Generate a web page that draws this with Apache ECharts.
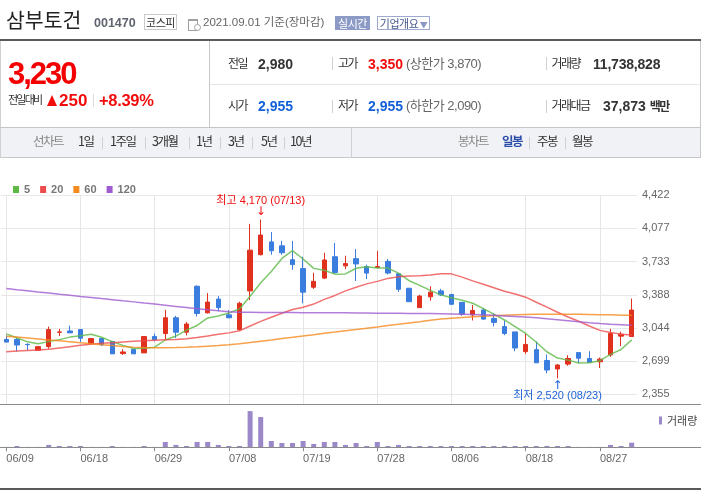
<!DOCTYPE html>
<html><head><meta charset="utf-8">
<script src="https://cdn.jsdelivr.net/npm/echarts@6/dist/echarts.min.js"></script>
<style>
html,body{margin:0;padding:0;background:#fff;}
body{width:701px;height:491px;position:relative;overflow:hidden;font-family:"Noto Sans CJK KR","Liberation Sans",sans-serif;}
#chart{position:absolute;left:0;top:0;width:701px;height:491px;z-index:1;}
.a{position:absolute;white-space:nowrap;line-height:1;z-index:2;}
.kr{font-family:"Noto Sans CJK KR",sans-serif;}
.num{font-family:"Liberation Sans",Arial,sans-serif;font-weight:bold;}
.mix{font-family:"Liberation Sans","Noto Sans CJK KR",sans-serif;}
.ln{position:absolute;z-index:2;}
.lbl{font-size:12px;letter-spacing:-1.5px;color:#333;}
.v{font-size:14px;color:#333;}
.red{color:#f20d0d;}
.blue{color:#1160d8;}
.sub{font-size:13px;color:#666;letter-spacing:-0.5px;}
.tab{font-size:12.5px;letter-spacing:-1.5px;color:#333;top:135px;}
.tabg{color:#888;}
.sep{position:absolute;z-index:2;width:1px;height:12px;background:#d0d0d0;top:137px;}
</style></head><body>
<div id="chart"></div>

<!-- header -->
<div class="a kr" style="left:6px;top:9px;font-size:20.5px;color:#222;">삼부토건</div>
<div class="a num" style="left:94px;top:17px;font-size:12.5px;color:#5f6470;">001470</div>
<div class="a kr" style="left:144px;top:14px;width:31px;height:14px;border:1px solid #cacaca;font-size:11px;line-height:14px;text-align:center;color:#333;letter-spacing:-0.5px;">코스피</div>
<div class="ln" style="left:188px;top:19px;width:8px;height:9px;border:1px solid #a0a0a0;border-top:2px solid #a0a0a0;"></div>
<div class="ln" style="left:194px;top:24px;width:5px;height:5px;border-radius:50%;border:1px solid #a0a0a0;background:#fff;"></div>
<div class="a mix" style="left:203px;top:16.5px;font-size:11.5px;color:#666;">2021.09.01 기준(장마감)</div>
<div class="a kr" style="left:335px;top:16px;width:35px;height:14px;background:#8c9ac6;color:#fff;font-size:11px;line-height:14px;text-align:center;letter-spacing:-0.5px;">실시간</div>
<div class="a kr" style="left:377px;top:16px;width:51px;height:12px;border:1px solid #9ea9d2;font-size:11px;line-height:12px;color:#48598f;letter-spacing:-0.5px;padding-left:0;text-align:center;">기업개요<span style="font-size:8px;color:#8d98c2;"> ▼</span></div>

<div class="ln" style="left:0;top:39px;width:701px;height:2px;background:#5b5b5b;"></div>
<div class="ln" style="left:0;top:41px;width:1px;height:117px;background:#d0d0d0;"></div>
<div class="ln" style="left:700px;top:41px;width:1px;height:117px;background:#c8c8c8;"></div>
<div class="ln" style="left:209px;top:41px;width:1px;height:86px;background:#c8c8c8;"></div>
<div class="ln" style="left:210px;top:84px;width:490px;height:1px;background:#e6e6e6;"></div>
<div class="ln" style="left:0;top:127px;width:701px;height:1px;background:#c5c5c5;"></div>

<div class="a num" style="left:8px;top:58px;font-size:31px;letter-spacing:-2px;color:#f40000;">3,230</div>
<div class="a kr" style="left:8px;top:94px;font-size:11px;letter-spacing:-1.8px;color:#333;">전일대비</div>
<div class="ln" style="left:47px;top:95px;width:0;height:0;border-left:5.5px solid transparent;border-right:5.5px solid transparent;border-bottom:11px solid #f20d0d;"></div>
<div class="a num red" style="left:59px;top:92px;font-size:17px;">250</div>
<div class="ln" style="left:93px;top:94px;width:1px;height:13px;background:#dcdcdc;"></div>
<div class="a num red" style="left:99px;top:92.4px;font-size:16.5px;letter-spacing:-0.3px;">+8.39%</div>

<div class="a kr lbl" style="left:228px;top:56.7px;">전일</div>
<div class="a num v" style="left:258px;top:56.6px;">2,980</div>
<div class="ln" style="left:332px;top:57px;width:1px;height:13px;background:#d0d0d0;"></div>
<div class="a kr lbl" style="left:338px;top:56.7px;">고가</div>
<div class="a num v red" style="left:368px;top:56.6px;">3,350</div>
<div class="a mix sub" style="left:406px;top:56.6px;">(상한가 3,870)</div>
<div class="ln" style="left:546px;top:57px;width:1px;height:13px;background:#d0d0d0;"></div>
<div class="a kr lbl" style="left:551.5px;top:56.7px;">거래량</div>
<div class="a num v" style="left:593px;top:56.6px;letter-spacing:-0.2px;">11,738,828</div>

<div class="a kr lbl" style="left:228px;top:99px;">시가</div>
<div class="a num v blue" style="left:258px;top:98.9px;">2,955</div>
<div class="ln" style="left:332px;top:99.5px;width:1px;height:13px;background:#d0d0d0;"></div>
<div class="a kr lbl" style="left:338px;top:99px;">저가</div>
<div class="a num v blue" style="left:368px;top:98.9px;">2,955</div>
<div class="a mix sub" style="left:406px;top:98.9px;">(하한가 2,090)</div>
<div class="ln" style="left:546px;top:99.5px;width:1px;height:13px;background:#d0d0d0;"></div>
<div class="a kr lbl" style="left:551.5px;top:99px;">거래대금</div>
<div class="a num v" style="left:603px;top:98.9px;">37,873 <span class="kr" style="font-size:12px;letter-spacing:-1.5px;">백만</span></div>

<!-- tab bar -->
<div class="ln" style="left:1px;top:128px;width:699px;height:29px;background:#f1f2f6;border-bottom:1px solid #c9c9cd;z-index:1;"></div>
<div class="ln" style="left:351px;top:128px;width:1px;height:30px;background:#d0d0d4;"></div>
<div class="a kr tab tabg" style="left:33px;">선차트</div>
<div class="a kr tab" style="left:78px;">1일</div>
<div class="sep" style="left:102px;"></div>
<div class="a kr tab" style="left:110px;">1주일</div>
<div class="sep" style="left:145px;"></div>
<div class="a kr tab" style="left:152px;">3개월</div>
<div class="sep" style="left:189px;"></div>
<div class="a kr tab" style="left:196px;">1년</div>
<div class="sep" style="left:220px;"></div>
<div class="a kr tab" style="left:228px;">3년</div>
<div class="sep" style="left:252px;"></div>
<div class="a kr tab" style="left:261px;">5년</div>
<div class="sep" style="left:284px;"></div>
<div class="a kr tab" style="left:290px;">10년</div>
<div class="a kr tab tabg" style="left:458px;">봉차트</div>
<div class="a kr tab" style="left:502px;color:#2b4fa8;font-weight:bold;">일봉</div>
<div class="sep" style="left:529px;"></div>
<div class="a kr tab" style="left:537px;">주봉</div>
<div class="sep" style="left:565px;"></div>
<div class="a kr tab" style="left:572px;">월봉</div>

<!-- chart frame lines -->
<div class="ln" style="left:0;top:404px;width:701px;height:1px;background:#8a8a8a;"></div>
<div class="ln" style="left:0;top:447px;width:701px;height:1px;background:#8a8a8a;"></div>
<div class="ln" style="left:0;top:488px;width:701px;height:2px;background:#5a5a5a;"></div>

<script>
// ---- data ----
const dates = ['06/09','06/10','06/11','06/14','06/15','06/16','06/17','06/18','06/21','06/22','06/23','06/24','06/25','06/28','06/29','06/30',
 '07/01','07/02','07/05','07/06','07/07','07/08','07/09','07/12','07/13','07/14','07/15','07/16','07/19','07/20','07/21','07/22','07/23','07/26','07/27','07/28','07/29','07/30',
 '08/02','08/03','08/04','08/05','08/06','08/09','08/10','08/11','08/12','08/13','08/17','08/18','08/19','08/20','08/23','08/24','08/25','08/26','08/27','08/30','08/31','09/01'];
const opens  = [2925,2925,2874,2812,2850,2999,3013,3027,2884,2935,2904,2778,2822,2785,2955,2986,3150,3000,3477,3201,3344,3180,3027,3429,3805,3938,3897,3753,3661,3467,3562,3784,3689,3764,3682,3672,3736,3607,3457,3255,3368,3429,3392,3310,3180,3231,3143,3058,3003,2798,2819,2706,2618,2669,2788,2727,2693,2764,2959,2955];
const closes = [2897,2867,2870,2850,3027,3003,2993,2938,2935,2870,2775,2795,2775,2955,2921,3150,3000,3085,3194,3313,3255,3150,3300,3852,4009,3846,3825,3702,3416,3528,3750,3620,3713,3709,3614,3682,3614,3446,3317,3375,3416,3388,3290,3187,3225,3136,3102,2986,2836,2873,2682,2607,2659,2727,2730,2686,2720,2986,2980,3230];
const lows   = [2897,2798,2812,2812,2829,2959,2993,2897,2877,2856,2775,2764,2775,2785,2904,2925,2938,2966,3163,3194,3218,3145,3020,3334,3798,3805,3805,3648,3300,3450,3552,3607,3655,3532,3552,3672,3600,3419,3317,3255,3327,3375,3283,3170,3122,3129,3061,2969,2802,2775,2682,2573,2520,2652,2679,2686,2628,2744,2856,2955];
const highs  = [2966,2945,2884,2850,3058,3034,3068,3034,2935,2935,2904,2822,2822,2955,2986,3232,3170,3105,3487,3406,3375,3230,3317,4125,4170,4040,3948,3948,3784,3617,3825,3927,3794,3863,3702,3842,3760,3607,3457,3388,3477,3450,3392,3310,3283,3252,3197,3122,3003,2986,2904,2768,2669,2761,2788,2802,2737,3034,3006,3350];
const volumes = [1000000,3400000,1000000,1000000,6000000,3400000,3400000,3400000,1000000,1000000,3400000,1000000,1000000,3400000,1000000,13600000,6000000,3400000,13600000,13600000,6000000,3400000,3400000,92000000,77000000,16000000,11000000,11000000,16000000,8500000,13600000,13600000,6000000,11000000,3400000,13600000,3400000,6000000,
 3400000,3300000,3400000,3200000,3400000,3300000,3400000,3300000,3400000,3500000,3400000,3300000,3400000,3500000,3400000,3300000,1000000,1000000,1000000,6000000,3400000,11738828];
const ma5   = [2983,2942,2900,2880,2902,2923,2949,2962,2979,2948,2902,2863,2830,2834,2844,2919,2960,3022,3070,3148,3169,3199,3242,3374,3513,3631,3766,3847,3760,3663,3644,3603,3605,3664,3681,3668,3666,3613,3535,3487,3434,3388,3357,3331,3301,3245,3188,3127,3057,2987,2896,2797,2731,2710,2681,2682,2704,2770,2820,2920];
const ma20  = [2798,2804,2810,2816,2822,2836,2850,2864,2876,2884,2891,2898,2905,2911,2917,2921,2925,2931,2945,2961,2979,2993,3014,3064,3113,3156,3197,3235,3259,3292,3341,3382,3429,3467,3502,3528,3559,3577,3583,3586,3594,3606,3606,3572,3533,3498,3462,3426,3397,3364,3311,3260,3207,3158,3114,3064,3019,2996,2980,2972];
const ma60  = [2959,2950,2940,2930,2920,2910,2900,2890,2880,2870,2861,2852,2845,2840,2838,2838,2840,2843,2848,2855,2862,2870,2880,2893,2907,2920,2934,2947,2961,2974,2988,3001,3015,3028,3042,3055,3069,3082,3096,3109,3123,3136,3145,3153,3160,3166,3172,3177,3181,3184,3186,3187,3187,3187,3186,3184,3182,3180,3177,3175];
const ma120 = [3453,3441,3430,3418,3407,3395,3384,3372,3361,3349,3338,3326,3315,3303,3292,3280,3268,3256,3244,3232,3222,3212,3207,3206,3205,3205,3204,3204,3203,3203,3202,3202,3201,3200,3199,3198,3197,3196,3195,3194,3193,3192,3190,3187,3184,3180,3175,3169,3163,3157,3149,3140,3130,3120,3108,3098,3090,3083,3077,3071];
const maNames = ['5','20','60','120'];
const priceMin = 2355, priceMax = 4422, priceStep = 344.5;
const volumeMax = 100000000;

// ---- styles ----
const UP = '#e0301e', DOWN = '#3a7ddf';
const maColors = ['#5cb946','#ee4c4c','#f58a1e','#9f5cd1'];
const numFont = 'Liberation Sans, Noto Sans CJK KR, sans-serif';
const fmt = n => String(Math.floor(n)).replace(/\B(?=(\d{3})+(?!\d))/g, ',');

const hiIdx = highs.indexOf(Math.max(...highs));
const loIdx = lows.indexOf(Math.min(...lows));

const G = {left: 1, width: 636};
const chart = echarts.init(document.getElementById('chart'), null, {renderer: 'canvas'});
const option = {
  animation: false,
  legend: [
    {data: maNames, left: 8, top: 179, icon: 'rect', itemWidth: 6, itemHeight: 7, itemGap: 10, selectedMode: false,
     textStyle: {color: '#777', fontSize: 11, fontWeight: 'bold', fontFamily: numFont}},
    {data: ['거래량'], left: 654, top: 410, icon: 'rect', itemWidth: 3, itemHeight: 8, selectedMode: false,
     textStyle: {color: '#444', fontSize: 11, fontFamily: 'Noto Sans CJK KR, sans-serif'}}
  ],
  grid: [
    {left: G.left, width: G.width, top: 195.3, height: 199},
    {left: G.left, width: G.width, top: 408, height: 39.3},
    {left: G.left, width: G.width, top: 195.3, height: 209}
  ],
  xAxis: [
    {type: 'category', gridIndex: 0, data: dates, boundaryGap: true, axisLine: {show: false}, axisTick: {show: false}, axisLabel: {show: false}, splitLine: {show: false}},
    {type: 'category', gridIndex: 1, data: dates, boundaryGap: true, axisLine: {show: false},
     axisTick: {show: true, interval: 6, alignWithLabel: true, length: 4, lineStyle: {color: '#8a8a8a'}},
     axisLabel: {interval: 6, align: 'left', margin: 6, color: '#666', fontSize: 11, fontFamily: numFont},
     splitLine: {show: false}},
    {type: 'category', gridIndex: 2, data: dates, boundaryGap: true, show: true,
     axisLine: {show: false}, axisTick: {show: false}, axisLabel: {show: false},
     splitLine: {show: true, interval: 6, alignWithLabel: true, lineStyle: {color: '#e6e6e6', width: 1}}}
  ],
  yAxis: [
    {type: 'value', gridIndex: 0, position: 'right', min: priceMin, max: priceMax, interval: priceStep,
     axisLine: {show: false}, axisTick: {show: false},
     axisLabel: {margin: 5, color: '#666', fontSize: 11, fontFamily: numFont, formatter: v => fmt(v)},
     splitLine: {show: true, lineStyle: {color: '#e8e8e8', width: 1}}},
    {type: 'value', gridIndex: 1, min: 0, max: volumeMax, show: false, splitLine: {show: false}},
    {type: 'value', gridIndex: 2, min: 0, max: 1, axisLine: {show: false}, axisTick: {show: false}, axisLabel: {show: false}, splitLine: {show: false}}
  ],
  series: [
    {type: 'line', name: 'vgrid', xAxisIndex: 2, yAxisIndex: 2, data: dates.map(() => null), silent: true,
     symbol: 'none', lineStyle: {opacity: 0}, z: 0},
    {type: 'candlestick', name: 'price', xAxisIndex: 0, yAxisIndex: 0, barWidth: 5,
     data: dates.map((d, i) => [opens[i], closes[i], lows[i], highs[i]]),
     itemStyle: {color: UP, borderColor: UP, color0: DOWN, borderColor0: DOWN, borderColorDoji: UP, borderWidth: 1},
     markPoint: {
       symbol: 'rect', symbolSize: 1, itemStyle: {color: 'rgba(0,0,0,0)'},
       data: [
         {coord: [dates[hiIdx], highs[hiIdx]],
          label: {show: true, position: 'top', distance: 2,
            formatter: '{t|최고 ' + fmt(highs[hiIdx]) + ' (' + dates[hiIdx] + ')}\n{a|↓}',
            rich: {t: {color: '#f20d0d', fontSize: 11, lineHeight: 13, fontFamily: numFont},
                   a: {color: '#f20d0d', fontSize: 12, lineHeight: 10, fontFamily: 'DejaVu Sans'}}}},
         {coord: [dates[loIdx], lows[loIdx]],
          label: {show: true, position: 'bottom', distance: 2,
            formatter: '{a|↑}\n{t|최저 ' + fmt(lows[loIdx]) + ' (' + dates[loIdx] + ')}',
            rich: {t: {color: '#1d62d6', fontSize: 11, lineHeight: 13, fontFamily: numFont},
                   a: {color: '#1d62d6', fontSize: 12, lineHeight: 9, fontFamily: 'DejaVu Sans'}}}}
       ]
     }},
    ...[ma5, ma20, ma60, ma120].map((arr, k) => ({
      type: 'line', name: maNames[k], xAxisIndex: 0, yAxisIndex: 0, data: arr,
      showSymbol: false, symbol: 'none', color: maColors[k],
      lineStyle: {width: 1.5, color: maColors[k], opacity: 0.8}, z: 3
    })),
    {type: 'bar', name: '거래량', xAxisIndex: 1, yAxisIndex: 1, data: volumes, barWidth: 5,
     itemStyle: {color: '#9b88c8'}, color: '#9b88c8'}
  ]
};
chart.setOption(option);
</script>
</body></html>
